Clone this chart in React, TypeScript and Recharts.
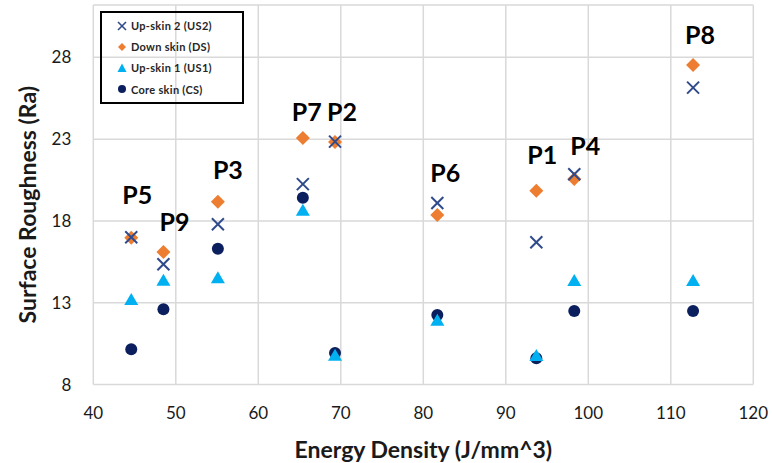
import { ScatterChart, Scatter, XAxis, YAxis, CartesianGrid, Label } from "recharts";

// one row per print parameter set, same order in every array
const pointNames = ["P5", "P9", "P3", "P7", "P2", "P6", "P1", "P4", "P8"];
const energyDensity = [44.6, 48.5, 55.1, 65.4, 69.3, 81.7, 93.7, 98.3, 112.7];
const upSkin2 = [17.0, 15.35, 17.8, 20.25, 22.85, 19.1, 16.7, 20.85, 26.15];
const downSkin = [16.97, 16.1, 19.17, 23.07, 22.82, 18.36, 19.85, 20.56, 27.53];
const upSkin1 = [13.17, 14.35, 14.49, 18.62, 9.75, 11.9, 9.74, 14.33, 14.33];
const coreSkin = [10.15, 12.6, 16.3, 19.42, 9.92, 12.25, 9.6, 12.5, 12.5];

const xTicks = [40, 50, 60, 70, 80, 90, 100, 110, 120];
const yTicks = [8, 13, 18, 23, 28];

const US2 = "#2F4B8C";
const DS = "#ED7D31";
const US1 = "#00B0F0";
const CS = "#0B1F5E";
const FONT = "Lato, 'Open Sans', sans-serif";

// label nudges relative to the Down skin marker
const labelNudge: Record<string, [number, number]> = {
  P5: [6, -44],
  P9: [11, -31],
  P3: [10, -33],
  P7: [4, -27],
  P2: [7, -31],
  P6: [8, -43],
  P1: [6, -37],
  P4: [11, -34],
  P8: [7, -31],
};

const toRows = (vals: number[]) =>
  vals.map((v, i) => ({ x: energyDensity[i], y: v, name: pointNames[i] }));

const XMark = ({ cx, cy }: any) => (
  <g stroke={US2} strokeWidth={2}>
    <line x1={cx - 6} y1={cy - 6} x2={cx + 6} y2={cy + 6} />
    <line x1={cx - 6} y1={cy + 6} x2={cx + 6} y2={cy - 6} />
  </g>
);

const DiamondMark = ({ cx, cy, payload }: any) => {
  const [dx, dy] = labelNudge[payload.name] || [8, -34];
  return (
    <g>
      <path
        d={`M${cx},${cy - 7}L${cx + 7},${cy}L${cx},${cy + 7}L${cx - 7},${cy}Z`}
        fill={DS}
      />
      <text
        x={cx + dx}
        y={cy + dy}
        textAnchor="middle"
        dominantBaseline="central"
        fontFamily={FONT}
        fontWeight={700}
        fontSize={25}
        fill="#000"
      >
        {payload.name}
      </text>
    </g>
  );
};

const TriMark = ({ cx, cy }: any) => (
  <path d={`M${cx},${cy - 7}L${cx + 7},${cy + 5}L${cx - 7},${cy + 5}Z`} fill={US1} />
);

const DotMark = ({ cx, cy }: any) => <circle cx={cx} cy={cy} r={6} fill={CS} />;

const legendItems = [
  { label: "Up-skin 2 (US2)", kind: "x" },
  { label: "Down skin (DS)", kind: "d" },
  { label: "Up-skin 1 (US1)", kind: "t" },
  { label: "Core skin (CS)", kind: "c" },
];

function LegendIcon({ kind }: { kind: string }) {
  return (
    <svg width={12} height={12} style={{ marginRight: 3 }}>
      {kind === "x" && (
        <g stroke={US2} strokeWidth={1.6}>
          <line x1={2} y1={2} x2={10} y2={10} />
          <line x1={2} y1={10} x2={10} y2={2} />
        </g>
      )}
      {kind === "d" && <path d="M6,2L10,6L6,10L2,6Z" fill={DS} />}
      {kind === "t" && <path d="M6,1.5L10.5,10L1.5,10Z" fill={US1} />}
      {kind === "c" && <circle cx={6} cy={6} r={4} fill={CS} />}
    </svg>
  );
}

export default function App() {
  return (
    <div
      style={{
        position: "absolute",
        left: 0,
        top: 0,
        width: 772,
        height: 463,
        background: "#fff",
        fontFamily: FONT,
      }}
    >
      <ScatterChart
        width={772}
        height={463}
        margin={{ top: 5, right: 18.7, left: 0, bottom: 0 }}
      >
        <CartesianGrid stroke="#D9D9D9" strokeWidth={1.5} />
        <XAxis
          type="number"
          dataKey="x"
          domain={[40, 120]}
          ticks={xTicks}
          axisLine={false}
          tickLine={false}
          tickSize={0}
          tickMargin={22.5}
          height={78.5}
          tick={{ fontSize: 17, fill: "#1a1a1a", fontFamily: FONT }}
        >
          <Label
            value="Energy Density (J/mm^3)"
            position="insideBottom"
            offset={5}
            style={{ fontSize: 23, fontWeight: 700, fill: "#1a1a1a", fontFamily: FONT }}
          />
        </XAxis>
        <YAxis
          type="number"
          dataKey="y"
          domain={[8, 31.2]}
          ticks={yTicks}
          axisLine={false}
          tickLine={false}
          tickSize={0}
          tickMargin={22}
          width={93.3}
          tick={{ fontSize: 17, fill: "#1a1a1a", fontFamily: FONT }}
        >
          <Label
            content={({ viewBox }: any) => {
              const cx = 27;
              const cy = viewBox.y + viewBox.height / 2 + 10;
              return (
                <text
                  x={cx}
                  y={cy}
                  transform={`rotate(-90 ${cx} ${cy})`}
                  textAnchor="middle"
                  dominantBaseline="central"
                  fontSize={23}
                  fontWeight={700}
                  fill="#1a1a1a"
                  fontFamily={FONT}
                >
                  Surface Roughness (Ra)
                </text>
              );
            }}
          />
        </YAxis>
        <Scatter data={toRows(coreSkin)} shape={DotMark} isAnimationActive={false} />
        <Scatter data={toRows(upSkin1)} shape={TriMark} isAnimationActive={false} />
        <Scatter data={toRows(downSkin)} shape={DiamondMark} isAnimationActive={false} />
        <Scatter data={toRows(upSkin2)} shape={XMark} isAnimationActive={false} />
      </ScatterChart>
      <div
        style={{
          position: "absolute",
          left: 100,
          top: 11,
          width: 140,
          height: 87,
          border: "2px solid #000",
          paddingTop: 2,
        }}
      >
        {legendItems.map((it) => (
          <div
            key={it.label}
            style={{
              display: "flex",
              alignItems: "center",
              height: 21.2,
              paddingLeft: 14,
              fontSize: 11,
              fontWeight: 700,
              color: "#262626",
              letterSpacing: 0.3,
            }}
          >
            <LegendIcon kind={it.kind} />
            {it.label}
          </div>
        ))}
      </div>
    </div>
  );
}
